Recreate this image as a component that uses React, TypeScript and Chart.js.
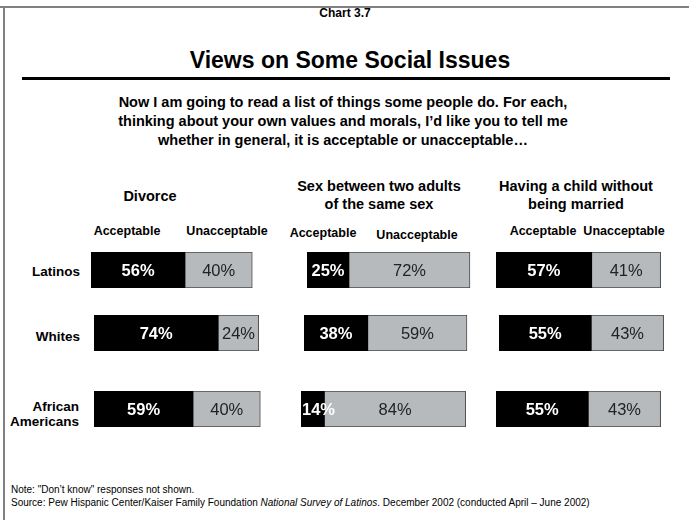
import React, { useEffect, useRef } from "react";
import { Chart, registerables } from "chart.js";

Chart.register(...registerables);

// ---- Data ----
const groups = ["Latinos", "Whites", "African Americans"];
const seriesNames = ["Acceptable", "Unacceptable"];
const issueTitles = [
  ["Divorce"],
  ["Sex between two adults", "of the same sex"],
  ["Having a child without", "being married"],
];
const divorceAcceptable = [56, 74, 59];
const divorceUnacceptable = [40, 24, 40];
const sameSexAcceptable = [25, 38, 14];
const sameSexUnacceptable = [72, 59, 84];
const childAcceptable = [57, 55, 55];
const childUnacceptable = [41, 43, 43];

const acceptableByIssue = [divorceAcceptable, sameSexAcceptable, childAcceptable];
const unacceptableByIssue = [divorceUnacceptable, sameSexUnacceptable, childUnacceptable];

// ---- Layout / style ----
const FONT = '"Liberation Sans", Arial, Helvetica, sans-serif';
const BAR_W = 168; // width of 0..100 scale
const BAR_H = 36;
const barLefts = [
  [91, 94, 94],
  [307, 304, 301],
  [496, 499, 496],
];
const rowTops = [252, 315, 391];
const GRAY = "#b7babc";

const labelPlugin = {
  id: "barLabels",
  afterDatasetsDraw(chart: any) {
    const ctx = chart.ctx;
    ctx.save();
    ctx.textAlign = "center";
    ctx.textBaseline = "middle";
    chart.data.datasets.forEach((ds: any, di: number) => {
      const meta = chart.getDatasetMeta(di);
      meta.data.forEach((el: any, i: number) => {
        const { x, y, base } = el.getProps(["x", "y", "base"], true);
        const v = ds.data[i];
        ctx.font = di === 0 ? `bold 16.5px ${FONT}` : `16.5px ${FONT}`;
        ctx.fillStyle = di === 0 ? "#ffffff" : "#222222";
        let cx = (x + base) / 2;
        if (di === 0) {
          const w = ctx.measureText(v + "%").width;
          if (cx - w / 2 < 1) cx = 1 + w / 2;
        }
        ctx.fillText(v + "%", cx, y + 1);
      });
    });
    ctx.restore();
  },
};

function BarRow({ acc, unacc, group, left, top }: any) {
  const ref = useRef<HTMLCanvasElement>(null);
  useEffect(() => {
    if (!ref.current) return;
    const chart = new Chart(ref.current, {
      type: "bar",
      data: {
        labels: [group],
        datasets: [
          {
            label: seriesNames[0],
            data: [acc],
            backgroundColor: "#000000",
            borderWidth: 0,
            categoryPercentage: 1,
            barPercentage: 1,
          },
          {
            label: seriesNames[1],
            data: [unacc],
            backgroundColor: GRAY,
            borderColor: "#4a4a4a",
            borderWidth: 1,
            categoryPercentage: 1,
            barPercentage: 1,
          },
        ],
      },
      options: {
        indexAxis: "y",
        responsive: false,
        animation: false,
        devicePixelRatio: 1,
        layout: { padding: 0 },
        scales: {
          x: { stacked: true, min: 0, max: 100, display: false },
          y: { stacked: true, display: false },
        },
        plugins: {
          legend: { display: false },
          tooltip: { enabled: false },
        },
      },
      plugins: [labelPlugin],
    } as any);
    return () => chart.destroy();
  }, [acc, unacc, group]);
  return (
    <canvas
      ref={ref}
      width={BAR_W}
      height={BAR_H}
      style={{ position: "absolute", left, top, width: BAR_W, height: BAR_H }}
    />
  );
}

function Text({ children, x, y, size, bold, align = "center", italic, width = 400, lh }: any) {
  const lineH = lh || size * 1.2;
  let left = x;
  if (align === "center") left = x - width / 2;
  else if (align === "right") left = x - width;
  return (
    <div
      style={{
        position: "absolute",
        left,
        top: y - lineH / 2,
        width,
        textAlign: align,
        fontFamily: FONT,
        fontSize: size,
        fontWeight: bold ? "bold" : "normal",
        fontStyle: italic ? "italic" : "normal",
        lineHeight: lineH + "px",
        whiteSpace: "nowrap",
        color: "#000",
      }}
    >
      {children}
    </div>
  );
}

const panelCenters = [150, 379, 576];
const colHeaders = [
  [127, 227, 231],
  [323, 417, 233],
  [543, 624, 231],
];

export default function App() {
  return (
    <div
      style={{
        position: "absolute",
        left: 0,
        top: 0,
        width: 689,
        height: 520,
        background: "#fff",
        overflow: "hidden",
      }}
    >
      {/* frame */}
      <div style={{ position: "absolute", left: 0, top: 6, width: 689, height: 2, background: "#808080" }} />
      <div style={{ position: "absolute", left: 3, top: 6, width: 2, height: 514, background: "#808080" }} />

      <Text x={345} y={13} size={12} bold>Chart 3.7</Text>
      <Text x={350} y={61} size={23} bold width={600}>Views on Some Social Issues</Text>
      <div style={{ position: "absolute", left: 22, top: 77, width: 648, height: 3, background: "#000" }} />

      <Text x={343} y={103} size={14.5} bold width={620}>
        Now I am going to read a list of things some people do. For each,
      </Text>
      <Text x={343} y={122} size={14.5} bold width={620}>
        thinking about your own values and morals, I’d like you to tell me
      </Text>
      <Text x={343} y={141} size={14.5} bold width={620}>
        whether in general, it is acceptable or unacceptable…
      </Text>

      {issueTitles.map((lines, p) =>
        lines.map((ln, k) => (
          <Text
            key={p + "-" + k}
            x={panelCenters[p]}
            y={lines.length === 1 ? 197 : 187 + k * 18}
            size={14.5}
            bold
            width={240}
          >
            {ln}
          </Text>
        ))
      )}

      {colHeaders.map((c, p) => (
        <React.Fragment key={"ch" + p}>
          <Text x={c[0]} y={c[2]} size={12.5} bold width={120}>{seriesNames[0]}</Text>
          <Text x={c[1]} y={c[2] + (p === 1 ? 2 : 0)} size={12.5} bold width={120}>{seriesNames[1]}</Text>
        </React.Fragment>
      ))}

      <Text x={80} y={272} size={13.5} bold align="right" width={90}>{groups[0]}</Text>
      <Text x={80} y={337} size={13.5} bold align="right" width={90}>{groups[1]}</Text>
      <Text x={79} y={407} size={13.5} bold align="right" width={90}>African</Text>
      <Text x={79} y={422} size={13.5} bold align="right" width={90}>Americans</Text>

      {acceptableByIssue.map((accArr, p) =>
        accArr.map((a, r) => (
          <BarRow
            key={p + "_" + r}
            acc={a}
            unacc={unacceptableByIssue[p][r]}
            group={groups[r]}
            left={barLefts[p][r]}
            top={rowTops[r]}
          />
        ))
      )}

      <Text x={11} y={490} size={10} align="left" width={640}>
        Note: "Don’t know" responses not shown.
      </Text>
      <Text x={11} y={503} size={10} align="left" width={680}>
        Source: Pew Hispanic Center/Kaiser Family Foundation <i>National Survey of Latinos</i>. December 2002 (conducted April – June 2002)
      </Text>
    </div>
  );
}
